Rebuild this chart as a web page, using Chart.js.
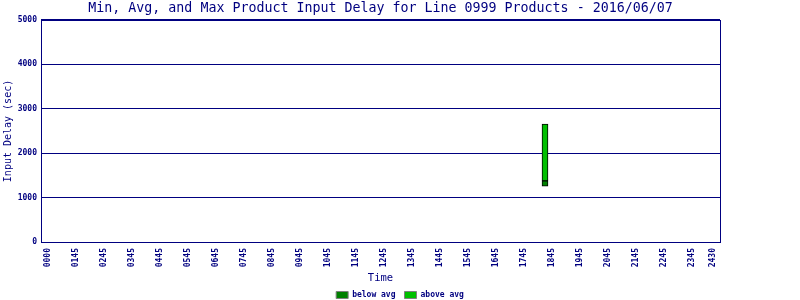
<!DOCTYPE html>
<html>
<head>
<meta charset="utf-8">
<script src="https://cdn.jsdelivr.net/npm/chart.js@4.4.1/dist/chart.umd.min.js"></script>
<style>
  html, body { margin: 0; padding: 0; background: #fff; }
  #wrap { width: 800px; height: 300px; }
</style>
</head>
<body>
<div id="wrap"><canvas id="delayChart" width="800" height="300"></canvas></div>
<script>
// time slots (minutes after midnight) that have product data
const slotMinutes = [1110];
const minDelay = [1260];
const avgDelay = [1375];
const maxDelay = [2655];

// x axis tick positions (minutes) and their labels
const tickMinutes = [45, 105, 165, 225, 285, 345, 405, 465, 525, 585, 645, 705, 765,
    825, 885, 945, 1005, 1065, 1125, 1185, 1245, 1305, 1365, 1425, 1470];
const tickLabels = ['0000', '0145', '0245', '0345', '0445', '0545', '0645', '0745', '0845',
    '0945', '1045', '1145', '1245', '1345', '1445', '1545', '1645', '1745', '1845', '1945',
    '2045', '2145', '2245', '2345', '2430'];
const yTicks = [0, 1000, 2000, 3000, 4000, 5000];

document.addEventListener('DOMContentLoaded', () => {
    const navy = '#000080';
    const mono = '"DejaVu Sans Mono", "Liberation Mono", monospace';
    const ctx = document.getElementById('delayChart').getContext('2d');

    // frame round the plot area (top and right sides)
    const frame = {
        id: 'frame',
        beforeDatasetsDraw(chart) {
            const a = chart.chartArea;
            const c = chart.ctx;
            c.save();
            c.strokeStyle = navy;
            c.lineWidth = 1;
            c.strokeRect(Math.round(a.left) + 0.5, Math.round(a.top) + 0.5,
                Math.round(a.right - a.left), Math.round(a.bottom - a.top));
            c.restore();
        }
    };

    new Chart(ctx, {
        type: 'bar',
        data: {
            datasets: [{
                label: 'below avg',
                data: slotMinutes.map((m, i) => ({ x: m, y: [minDelay[i], avgDelay[i]] })),
                backgroundColor: '#008000',
                borderColor: '#000000',
                borderWidth: 1,
                borderSkipped: false,
                grouped: false,
                barThickness: 6
            }, {
                label: 'above avg',
                data: slotMinutes.map((m, i) => ({ x: m, y: [avgDelay[i], maxDelay[i]] })),
                backgroundColor: '#00c000',
                borderColor: '#000000',
                borderWidth: 1,
                borderSkipped: false,
                grouped: false,
                barThickness: 6
            }]
        },
        options: {
            responsive: false,
            animation: false,
            layout: { padding: { left: 0, right: 0, top: 0, bottom: -9 } },
            plugins: {
                title: {
                    display: true,
                    fullSize: false, // centre over the plot area, not the canvas
                    text: 'Min, Avg, and Max Product Input Delay for Line 0999 Products - 2016/06/07',
                    color: navy,
                    font: { family: mono, size: 13.3, weight: 'normal', lineHeight: 1.2 },
                    padding: { top: 1, bottom: 3 }
                },
                legend: {
                    position: 'bottom',
                    labels: {
                        color: navy,
                        font: { family: mono, size: 8, weight: 'bold' },
                        boxWidth: 12,
                        boxHeight: 7,
                        padding: 9,
                        generateLabels(chart) {
                            return chart.data.datasets.map((ds, i) => ({
                                text: ds.label,
                                fillStyle: ds.backgroundColor,
                                strokeStyle: '#808080',
                                lineWidth: 1,
                                fontColor: navy,
                                datasetIndex: i
                            }));
                        }
                    }
                },
                tooltip: { enabled: false }
            },
            scales: {
                x: {
                    type: 'linear',
                    offset: false,
                    min: 30,
                    max: 1485,
                    afterBuildTicks(scale) {
                        scale.ticks = tickMinutes.map(v => ({ value: v }));
                    },
                    afterFit(scale) { scale.height = 40; },
                    ticks: {
                        autoSkip: false,
                        minRotation: 90,
                        maxRotation: 90,
                        padding: 6,
                        color: navy,
                        font: { family: mono, size: 8, weight: 'bold' },
                        callback(value) {
                            const i = tickMinutes.indexOf(value);
                            return i >= 0 ? tickLabels[i] : '';
                        }
                    },
                    grid: { display: false, drawTicks: false },
                    border: { display: true, color: navy, width: 1 },
                    title: {
                        display: true,
                        text: 'Time',
                        color: navy,
                        font: { family: mono, size: 10.5, lineHeight: 1 },
                        padding: { top: 0, bottom: -2 }
                    }
                },
                y: {
                    min: 0,
                    max: 5000,
                    afterBuildTicks(scale) {
                        scale.ticks = yTicks.map(v => ({ value: v }));
                    },
                    afterFit(scale) { scale.width = 41; },
                    ticks: {
                        padding: 4,
                        color: navy,
                        font: { family: mono, size: 8, weight: 'bold' },
                        callback: value => String(value)
                    },
                    grid: { color: navy, lineWidth: 1, drawTicks: false },
                    border: { display: true, color: navy, width: 1 },
                    title: {
                        display: true,
                        text: 'Input Delay (sec)',
                        color: navy,
                        font: { family: mono, size: 10 },
                        padding: { top: 2, bottom: 0 }
                    }
                },
                // empty right-hand axis, only keeps the white margin on the right
                yRight: {
                    position: 'right',
                    min: 0,
                    max: 5000,
                    afterFit(scale) { scale.width = 80; },
                    ticks: { display: false },
                    grid: { display: false, drawTicks: false },
                    border: { display: false }
                }
            }
        },
        plugins: [frame]
    });
});
</script>
</body>
</html>
